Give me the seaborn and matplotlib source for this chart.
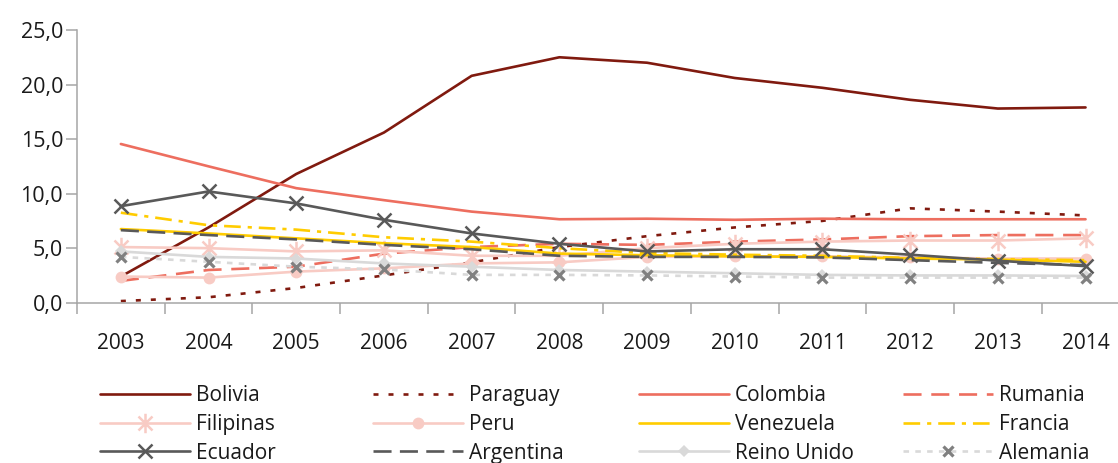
import numpy as np
import pandas as pd
import matplotlib
matplotlib.use("Agg")
import matplotlib.pyplot as plt
from matplotlib.path import Path
import seaborn as sns

years = [2003, 2004, 2005, 2006, 2007, 2008, 2009, 2010, 2011, 2012, 2013, 2014]
countries = ["Bolivia", "Paraguay", "Colombia", "Rumania", "Filipinas", "Peru",
             "Venezuela", "Francia", "Ecuador", "Argentina", "Reino Unido", "Alemania"]

bolivia = [2.4, 6.9, 11.8, 15.6, 20.8, 22.5, 22.0, 20.6, 19.7, 18.6, 17.8, 17.9]
paraguay = [0.15, 0.5, 1.35, 2.5, 3.7, 5.1, 6.1, 6.9, 7.5, 8.65, 8.35, 8.0]
colombia = [14.55, 12.5, 10.5, 9.4, 8.35, 7.65, 7.7, 7.6, 7.7, 7.65, 7.65, 7.65]
rumania = [2.0, 3.0, 3.3, 4.5, 5.1, 5.4, 5.3, 5.6, 5.8, 6.1, 6.2, 6.2]
filipinas = [5.1, 5.0, 4.7, 4.8, 4.3, 4.3, 5.0, 5.4, 5.6, 5.7, 5.7, 5.9]
peru = [2.4, 2.3, 2.85, 3.15, 3.6, 3.7, 4.2, 4.25, 4.25, 4.15, 4.05, 4.05]
venezuela = [6.75, 6.35, 5.9, 5.45, 5.1, 4.5, 4.35, 4.25, 4.2, 4.05, 3.95, 3.75]
francia = [8.25, 7.1, 6.7, 6.0, 5.6, 5.0, 4.55, 4.4, 4.3, 4.1, 4.0, 3.9]
ecuador = [8.85, 10.2, 9.1, 7.6, 6.35, 5.4, 4.7, 4.9, 4.9, 4.4, 3.85, 3.35]
argentina = [6.65, 6.2, 5.8, 5.3, 4.9, 4.3, 4.2, 4.2, 4.15, 3.9, 3.65, 3.45]
reino_unido = [4.7, 4.2, 4.05, 3.6, 3.3, 3.0, 2.85, 2.7, 2.55, 2.5, 2.5, 2.45]
alemania = [4.2, 3.75, 3.3, 3.05, 2.55, 2.55, 2.5, 2.4, 2.3, 2.3, 2.3, 2.3]

values = [bolivia, paraguay, colombia, rumania, filipinas, peru,
          venezuela, francia, ecuador, argentina, reino_unido, alemania]

sns.set_style("white")
plt.rcParams["font.family"] = ["Open Sans", "DejaVu Sans"]
plt.rcParams["lines.scale_dashes"] = False

# asterisk marker like the excel one
star = Path([(0, -1), (0, 1), (-0.72, -0.72), (0.72, 0.72), (-0.72, 0.72), (0.72, -0.72)],
            [Path.MOVETO, Path.LINETO] * 3)

dred = "#801a0f"
salmon = "#ed6e5f"
pink = "#f8cbc4"
yellow = "#ffcc00"
dgray = "#595959"
lgray = "#d9d9d9"

styles = [
    dict(color=dred, linestyle="-"),
    dict(color=dred, linestyle=(0, (3.6, 7.2))),
    dict(color=salmon, linestyle="-"),
    dict(color=salmon, linestyle=(0, (13, 7))),
    dict(color=pink, linestyle="-", marker=star, markersize=14, markeredgewidth=1.8,
         markeredgecolor=pink),
    dict(color=pink, linestyle="-", marker="o", markersize=8.5, markeredgewidth=0,
         markerfacecolor=pink),
    dict(color=yellow, linestyle="-"),
    dict(color=yellow, linestyle=(0, (12, 5, 3, 5))),
    dict(color=dgray, linestyle="-", marker="x", markersize=10, markeredgewidth=1.8,
         markeredgecolor=dgray),
    dict(color=dgray, linestyle=(0, (13, 6))),
    dict(color=lgray, linestyle="-", marker="D", markersize=6.5, markeredgewidth=0,
         markerfacecolor=lgray),
    dict(color=lgray, linestyle=(0, (4, 4.5)), marker="x", markersize=6.5,
         markeredgewidth=2.3, markeredgecolor="#808080"),
]

fig = plt.figure(figsize=(11.18, 4.63), dpi=100)
ax = fig.add_axes([77 / 1118, 1 - 302.7 / 463, 1052.4 / 1118, 272.7 / 463])

lines = []
for name, vals, st in zip(countries, values, styles):
    df = pd.DataFrame({"year": years, "value": vals})
    sns.lineplot(data=df, x="year", y="value", ax=ax, errorbar=None,
                 label=name, legend=False)
    ln = ax.get_lines()[-1]
    ln.set(linewidth=1.9, **st)
    lines.append(ln)

ax.set_xlim(2002.5, 2014.5)
ax.set_ylim(0, 25)
ax.set_xlabel("")
ax.set_ylabel("")
ax.set_xticks(years)
ax.set_xticklabels([str(y) for y in years])
ax.set_xticks(np.arange(2002.5, 2015, 1), minor=True)
ax.set_yticks([0, 5, 10, 15, 20, 25])
ax.set_yticklabels(["0,0", "5,0", "10,0", "15,0", "20,0", "25,0"])
ax.tick_params(axis="x", which="major", length=0, pad=21.5, labelsize=15, labelcolor="#1a1a1a")
ax.tick_params(axis="x", which="minor", length=8, width=1.1, color="#a6a6a6", direction="out")
ax.tick_params(axis="y", length=8, width=1.1, color="#a6a6a6", pad=2, labelsize=15.5,
               labelcolor="#1a1a1a", direction="out")
ax.tick_params(bottom=True, left=True, which="both")
for s in ["top", "right"]:
    ax.spines[s].set_visible(False)
for s in ["left", "bottom"]:
    ax.spines[s].set_color("#a6a6a6")
    ax.spines[s].set_linewidth(1.1)

# legend in four columns, like excel lays it out
col_x = [100, 373, 639, 903]
for c in range(4):
    hs = [lines[c], lines[c + 4], lines[c + 8]]
    leg = fig.legend(handles=hs, labels=[h.get_label() for h in hs], loc="upper left",
                     bbox_to_anchor=(col_x[c] / 1118, 0.168), frameon=False, ncol=1,
                     borderpad=0, borderaxespad=0, handlelength=4.3, handletextpad=0.3,
                     labelspacing=0.37, fontsize=15)
    for t in leg.get_texts():
        t.set_color("#1a1a1a")

fig.savefig("out.png", dpi=100)
